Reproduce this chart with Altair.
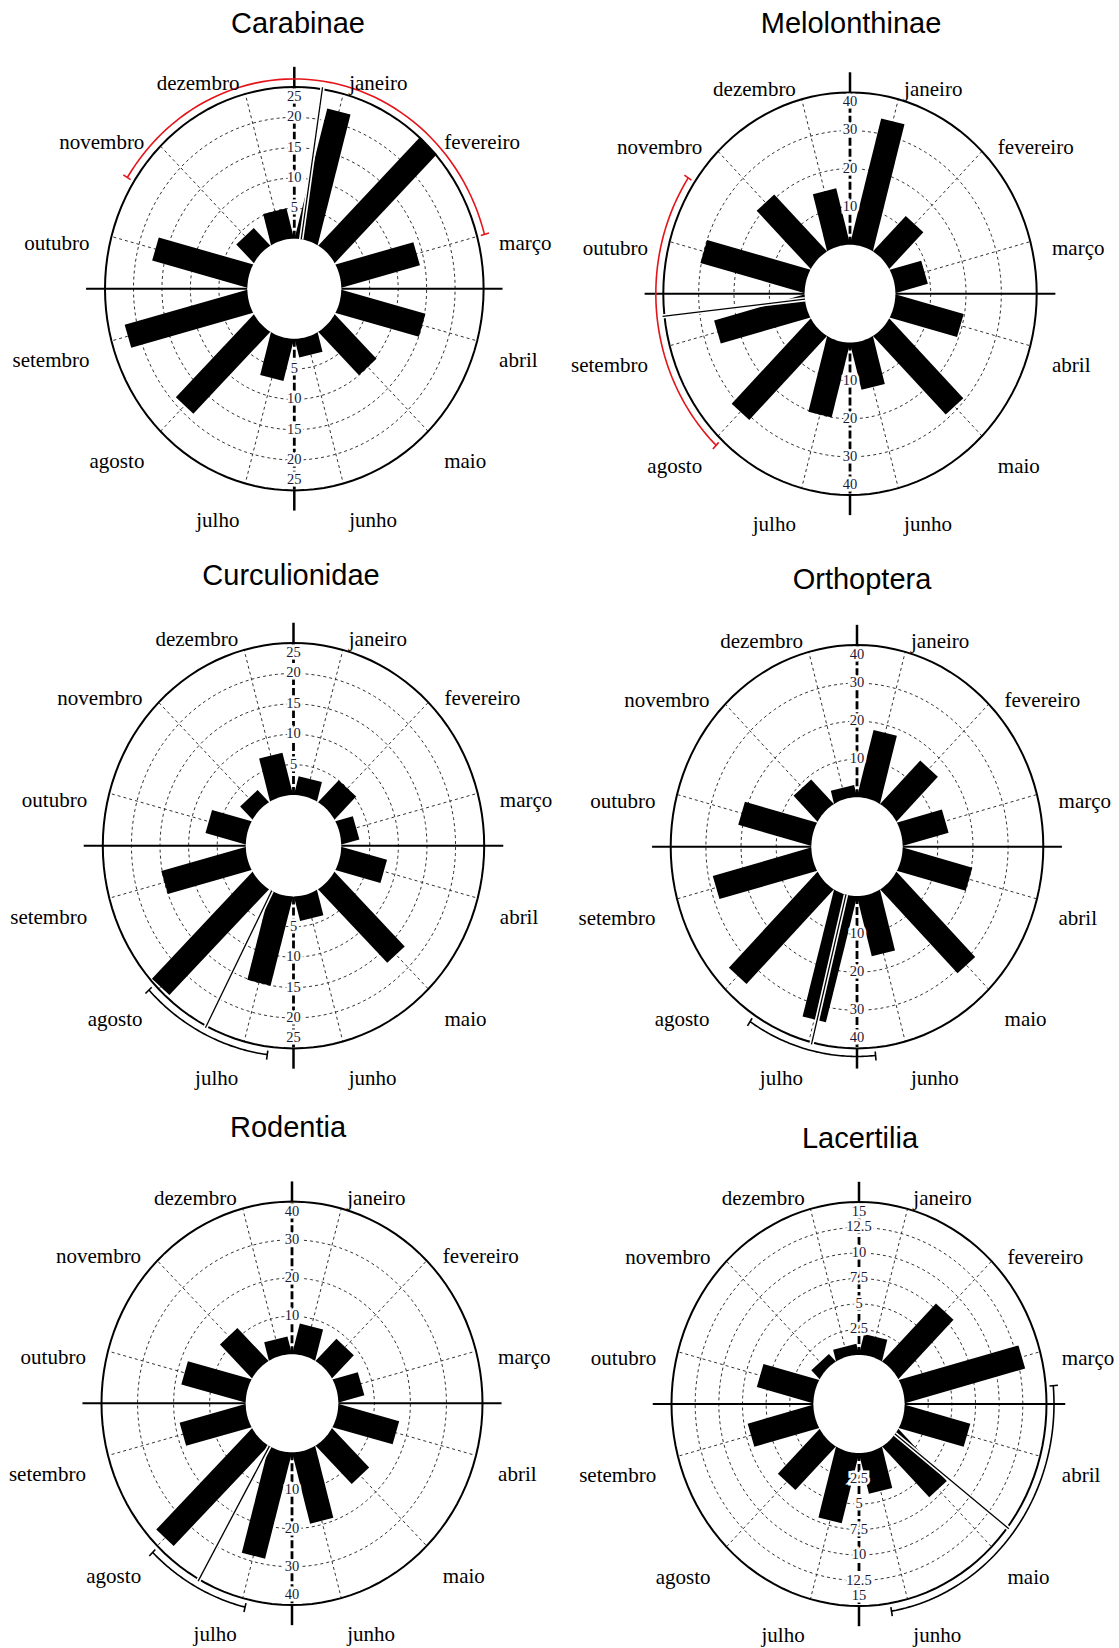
import altair as alt
import pandas as pd

# ---------------------------------------------------------------------------
# Data: monthly counts per taxon (janeiro ... dezembro)
# ---------------------------------------------------------------------------
MONTHS = ["janeiro", "fevereiro", "março", "abril", "maio", "junho",
          "julho", "agosto", "setembro", "outubro", "novembro", "dezembro"]

carabinae = [22, 25, 14, 15, 10, 3, 7, 19, 22, 17, 4, 5]
melolonthinae = [34, 13, 9, 19.5, 29, 12.5, 20, 31, 26, 30, 21, 15]
curculionidae = [3, 5, 3, 8, 17, 4, 15, 24.5, 15, 7, 2.7, 7]
orthoptera = [18, 16, 13, 20, 31, 16, 34, 35, 28.5, 21, 9, 3]
rodentia = [8, 8, 7, 17, 14, 19, 28.5, 37, 18.5, 18, 12, 4.5]
lacertilia = [2, 8, 13, 7, 7, 4, 7, 6, 7, 6, 1, 1]

# radial scale ticks (the last one is the outer circle)
ticks_25 = [5, 10, 15, 20, 25]
ticks_40 = [10, 20, 30, 40]
ticks_15 = [2.5, 5, 7.5, 10, 12.5, 15]

# mean direction (degrees, clockwise from north) and circular deviation
mean_angle = [8.5, 263.6, 207.2, 194.0, 209.2, 127.7]
angular_dev = [66.5, 40.0, 19.6, 19.5, 15.5, 42.7]

PANELS = [
    dict(name="Carabinae", values=carabinae, ticks=ticks_25, arc="#e3151b"),
    dict(name="Melolonthinae", values=melolonthinae, ticks=ticks_40, arc="#e3151b"),
    dict(name="Curculionidae", values=curculionidae, ticks=ticks_25, arc="black"),
    dict(name="Orthoptera", values=orthoptera, ticks=ticks_40, arc="black"),
    dict(name="Rodentia", values=rodentia, ticks=ticks_40, arc="black"),
    dict(name="Lacertilia", values=lacertilia, ticks=ticks_15, arc="black"),
]

# ---------------------------------------------------------------------------
# Layout: grid cell sizes and per-panel geometry (pixels inside each cell)
# cx, cy: pole position; hx, vy: pixels per unit radius; r0: inner hole radius
# ---------------------------------------------------------------------------
COL_W = [563, 556]
ROW_H = [548, 556, 544]
GEOM = [
    dict(cx=294.3, cy=288.7, hx=189.3, vy=201.7, r0=0.248, tx=298, ty=24),
    dict(cx=287.0, cy=293.7, hx=186.7, vy=201.3, r0=0.243, tx=288, ty=24),
    dict(cx=293.5, cy=297.7, hx=190.7, vy=202.7, r0=0.250, tx=291, ty=28),
    dict(cx=294.0, cy=298.7, hx=186.3, vy=201.7, r0=0.245, tx=299, ty=32),
    dict(cx=292.0, cy=299.3, hx=190.5, vy=201.7, r0=0.243, tx=288, ty=24),
    dict(cx=296.0, cy=300.0, hx=187.5, vy=202.0, r0=0.243, tx=297, ty=35),
]

CIRCLE_STEPS = list(range(0, 361, 3))   # sampling of circles
HALF_STEPS = list(range(0, 181, 3))     # sampling of the hole
ARC_STEPS = list(range(0, 61))          # sampling of deviation arc

SERIF = "Liberation Serif"
SANS = "Liberation Sans"
GRID = "#333333"


def px(r, th):
    return f"({r})*sin(({th})*PI/180)"


def py(r, th):
    return f"({r})*cos(({th})*PI/180)"


def fmt(t):
    return str(int(t)) if float(t).is_integer() else str(t)


def panel(idx, W, H):
    spec = PANELS[idx]
    g = GEOM[idx]
    vmax = spec["ticks"][-1]
    r0 = g["r0"]
    k = (1 - r0) / vmax
    mean = mean_angle[idx]
    dev = angular_dev[idx]

    xs = alt.Scale(domain=[-g["cx"] / g["hx"], (W - g["cx"]) / g["hx"]], nice=False, zero=False)
    ys = alt.Scale(domain=[-(H - g["cy"]) / g["vy"], g["cy"] / g["vy"]], nice=False, zero=False)

    def X(f="x"):
        return alt.X(f"{f}:Q", scale=xs, axis=None)

    def Y(f="y"):
        return alt.Y(f"{f}:Q", scale=ys, axis=None)

    def segs(base, ra, rb):
        th = "datum.th"
        return base.transform_calculate(
            x=px(ra, th), y=py(ra, th), x2=px(rb, th), y2=py(rb, th))

    def seg_encode(ch):
        return ch.encode(x=X(), y=Y(), x2=alt.X2("x2:Q"), y2=alt.Y2("y2:Q"))

    layers = []

    # dashed rings at each inner tick
    rings = pd.DataFrame([{"t": t, "a": a} for t in spec["ticks"][:-1] for a in CIRCLE_STEPS])
    layers.append(
        alt.Chart(rings).transform_calculate(r=f"{r0} + datum.t*{k}")
        .transform_calculate(x=px("datum.r", "datum.a"), y=py("datum.r", "datum.a"))
        .mark_line(color=GRID, strokeWidth=1, strokeDash=[3, 3])
        .encode(x=X(), y=Y(), detail="t:N", order="a:Q")
    )

    # dashed month spokes
    months = pd.DataFrame({"i": list(range(12)), "month": MONTHS})
    spokes = alt.Chart(months).transform_calculate(th="15 + 30*datum.i")
    layers.append(seg_encode(segs(spokes, r0, 1.0).mark_rule(
        color=GRID, strokeWidth=1, strokeDash=[3, 3])))

    # outer circle
    outer = pd.DataFrame({"a": CIRCLE_STEPS})
    layers.append(
        alt.Chart(outer).transform_calculate(x=px(1, "datum.a"), y=py(1, "datum.a"))
        .mark_line(color="black", strokeWidth=2)
        .encode(x=X(), y=Y(), order="a:Q")
    )

    # cross axes
    vert = alt.Chart(pd.DataFrame({"th": [0, 180]}))
    horiz = alt.Chart(pd.DataFrame({"th": [90, 270]}))
    layers.append(seg_encode(segs(horiz, r0, 1.1).mark_rule(color="black", strokeWidth=2)))
    layers.append(seg_encode(segs(vert, 1.0, 1.1).mark_rule(color="black", strokeWidth=2.5)))
    layers.append(seg_encode(segs(vert, r0, 1.0).mark_rule(
        color="black", strokeWidth=2.8, strokeDash=[8, 3])))

    # bars
    bars = pd.DataFrame({"i": list(range(12)), "month": MONTHS, "v": spec["values"]})
    bar_base = alt.Chart(bars).transform_calculate(
        th="15 + 30*datum.i", rb=f"{r0} + datum.v*{k}")
    layers.append(seg_encode(segs(bar_base, 0.6 * r0, "datum.rb").mark_rule(
        color="black", strokeWidth=24, strokeCap="butt")))

    # white hole
    hole = pd.DataFrame({"a": HALF_STEPS})
    layers.append(
        alt.Chart(hole).transform_calculate(
            x=f"{r0}*cos(datum.a*PI/180)", y=f"{r0}*sin(datum.a*PI/180)",
            y2=f"-{r0}*sin(datum.a*PI/180)")
        .mark_area(color="white", opacity=1)
        .encode(x=X(), y=Y(), y2=alt.Y2("y2:Q"))
    )

    # mean vector
    mv = alt.Chart(pd.DataFrame({"th": [mean]}))
    layers.append(seg_encode(segs(mv, r0, 1.01).mark_rule(color="white", strokeWidth=4.5)))
    layers.append(seg_encode(segs(mv, r0, 1.01).mark_rule(color="black", strokeWidth=1.3)))

    # deviation arc with end caps
    arc = pd.DataFrame({"s": ARC_STEPS})
    n = ARC_STEPS[-1]
    layers.append(
        alt.Chart(arc).transform_calculate(th=f"{mean - dev} + {2 * dev}*datum.s/{n}")
        .transform_calculate(x=px(1.04, "datum.th"), y=py(1.04, "datum.th"))
        .mark_line(color=spec["arc"], strokeWidth=1.6)
        .encode(x=X(), y=Y(), order="s:Q")
    )
    caps = alt.Chart(pd.DataFrame({"th": [mean - dev, mean + dev]}))
    layers.append(seg_encode(segs(caps, 1.02, 1.065).mark_rule(
        color=spec["arc"], strokeWidth=1.6)))

    # radial tick labels along the vertical axis (top and bottom)
    tl = pd.DataFrame([{"t": t, "s": s, "label": fmt(t)} for t in spec["ticks"] for s in (1, -1)])
    inner_lim = 1 - 10 / g["vy"]
    tick_base = alt.Chart(tl).transform_calculate(
        r=f"min({r0} + datum.t*{k}, {inner_lim})").transform_calculate(
        x="0", y="datum.s*datum.r")
    for halo in (True, False):
        mk = dict(font=SERIF, fontSize=14.5, align="center", baseline="middle")
        if halo:
            mk.update(color="white", stroke="white", strokeWidth=5)
        else:
            mk.update(color="#1a1a36")
        layers.append(tick_base.mark_text(**mk).encode(x=X(), y=Y(), text="label:N"))

    # month labels
    lab_base = alt.Chart(months).transform_calculate(th="15 + 30*datum.i").transform_calculate(
        x=px(1.12, "datum.th"), y=py(1.12, "datum.th"))
    layers.append(lab_base.transform_filter("datum.i < 6").mark_text(
        font=SERIF, fontSize=21, align="left", baseline="middle", dy=13.6, color="black")
        .encode(x=X(), y=Y(), text="month:N"))
    layers.append(lab_base.transform_filter("datum.i >= 6").mark_text(
        font=SERIF, fontSize=21, align="right", baseline="middle", dy=13.6, color="black")
        .encode(x=X(), y=Y(), text="month:N"))

    # panel title
    layers.append(
        alt.Chart(pd.DataFrame({"title": [spec["name"]]}))
        .mark_text(font=SANS, fontSize=29, align="center", baseline="middle", color="black")
        .encode(x=alt.value(g["tx"]), y=alt.value(g["ty"]), text="title:N")
    )

    return alt.layer(*layers).properties(width=W, height=H)


cells = [panel(i, COL_W[i % 2], ROW_H[i // 2]) for i in range(6)]

chart = (
    alt.concat(*cells, columns=2, spacing=0, bounds="flush")
    .resolve_scale(x="independent", y="independent")
    .properties(padding=0, background="white")
    .configure_view(stroke=None)
)

chart.save("out.html", embed_options={"renderer": "svg", "actions": False})
